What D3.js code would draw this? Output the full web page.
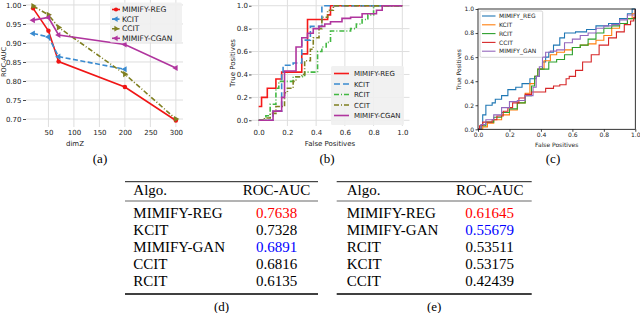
<!DOCTYPE html>
<html>
<head>
<meta charset="utf-8">
<script src="https://cdn.jsdelivr.net/npm/d3@7"></script>
<style>
body { margin: 0; background: #fff; }
svg { display: block; }
</style>
</head>
<body>
<svg id="fig" width="640" height="313"></svg>
<script>
/////////////////////////////////////////////////
// Données du panneau (a) : ROC-AUC selon dimZ //
/////////////////////////////////////////////////
const dimZReg = [20, 50, 70, 200, 300];
const aucReg = [0.991, 0.932, 0.851, 0.784, 0.696];
const dimZKcit = [20, 50, 70, 200];
const aucKcit = [0.925, 0.916, 0.864, 0.831];
const dimZCcit = [20, 50, 70, 200, 300];
const aucCcit = [0.997, 0.974, 0.941, 0.818, 0.700];
const dimZCgan = [20, 50, 70, 200, 300];
const aucCgan = [0.960, 0.967, 0.921, 0.896, 0.834];
const seriesA = ["MIMIFY-REG", "KCIT", "CCIT", "MIMIFY-CGAN"];
const ticksDimZ = [50, 100, 150, 200, 250, 300];
const ticksAuc = [0.70, 0.75, 0.80, 0.85, 0.90, 0.95, 1.00];

////////////////////////////////////////////////
// Données du panneau (b) : courbes ROC (pas) //
////////////////////////////////////////////////
const fprRegB = [0, 0.02, 0.06, 0.12, 0.16, 0.30, 0.34, 0.48, 0.50, 1.0];
const tprRegB = [0.12, 0.20, 0.28, 0.36, 0.42, 0.58, 0.88, 0.92, 1.0, 1.0];
const fprKcitB = [0, 0.10, 0.16, 0.17, 0.24, 0.30, 0.36, 0.44, 1.0];
const tprKcitB = [0, 0.08, 0.42, 0.48, 0.50, 0.70, 0.82, 1.0, 1.0];
const fprRcitB = [0, 0.05, 0.08, 0.12, 0.14, 0.24, 0.32, 0.41, 0.44, 0.47, 0.50, 0.64, 0.68, 0.72, 0.76, 0.80, 1.0];
const tprRcitB = [0, 0.04, 0.14, 0.28, 0.34, 0.38, 0.42, 0.60, 0.64, 0.68, 0.78, 0.80, 0.84, 0.88, 0.92, 1.0, 1.0];
const fprCcitB = [0, 0.04, 0.08, 0.12, 0.18, 0.20, 0.24, 0.26, 0.30, 0.32, 0.36, 0.38, 0.42, 0.44, 0.48, 0.52, 1.0];
const tprCcitB = [0, 0.02, 0.06, 0.12, 0.24, 0.28, 0.34, 0.38, 0.40, 0.52, 0.62, 0.72, 0.80, 0.90, 0.96, 1.0, 1.0];
const fprCganB = [0, 0.10, 0.16, 0.18, 0.26, 0.30, 0.34, 0.38, 0.42, 0.46, 0.50, 0.58, 0.64, 0.72, 0.82, 0.86, 1.0];
const tprCganB = [0, 0.08, 0.20, 0.43, 0.64, 0.72, 0.76, 0.80, 0.82, 0.84, 0.86, 0.89, 0.90, 0.93, 0.96, 1.0, 1.0];
const seriesB = ["MIMIFY-REG", "KCIT", "RCIT", "CCIT", "MIMIFY-CGAN"];

////////////////////////////////////////////////
// Données du panneau (c) : courbes ROC (pas) //
////////////////////////////////////////////////
const fprRegC = [0, 0.02, 0.03, 0.05, 0.09, 0.11, 0.15, 0.19, 0.24, 0.28, 0.33, 0.37, 0.39, 0.41, 0.43, 0.45, 0.48, 0.52, 0.55, 0.62, 0.69, 0.75, 0.83, 0.90, 0.95, 0.98, 1.0];
const tprRegC = [0, 0.04, 0.12, 0.20, 0.22, 0.25, 0.28, 0.33, 0.35, 0.38, 0.42, 0.44, 0.50, 0.56, 0.60, 0.64, 0.70, 0.76, 0.80, 0.81, 0.83, 0.86, 0.88, 0.92, 0.96, 1.0, 1.0];
const fprKcitC = [0, 0.03, 0.06, 0.10, 0.15, 0.20, 0.25, 0.30, 0.33, 0.36, 0.38, 0.42, 0.46, 0.50, 0.55, 0.60, 0.65, 0.70, 0.75, 0.80, 0.85, 0.90, 0.95, 0.98, 1.0];
const tprKcitC = [0, 0.02, 0.05, 0.08, 0.12, 0.16, 0.22, 0.30, 0.38, 0.44, 0.50, 0.57, 0.62, 0.64, 0.66, 0.68, 0.70, 0.71, 0.74, 0.78, 0.84, 0.88, 0.92, 0.96, 1.0];
const fprRcitC = [0, 0.02, 0.05, 0.10, 0.15, 0.20, 0.25, 0.30, 0.34, 0.36, 0.38, 0.42, 0.45, 0.50, 0.55, 0.60, 0.65, 0.70, 0.75, 0.80, 0.85, 0.90, 0.95, 1.0];
const tprRcitC = [0, 0.03, 0.06, 0.10, 0.14, 0.17, 0.22, 0.28, 0.36, 0.44, 0.50, 0.50, 0.56, 0.58, 0.62, 0.68, 0.70, 0.75, 0.80, 0.84, 0.86, 0.88, 0.92, 1.0];
const fprCcitC = [0, 0.01, 0.03, 0.09, 0.12, 0.16, 0.19, 0.22, 0.26, 0.30, 0.34, 0.43, 0.48, 0.52, 0.56, 0.58, 0.62, 0.665, 0.72, 0.77, 0.83, 0.88, 0.93, 0.97, 0.99, 1.0];
const tprCcitC = [0, 0.03, 0.06, 0.08, 0.11, 0.15, 0.18, 0.22, 0.26, 0.29, 0.31, 0.34, 0.36, 0.37, 0.42, 0.44, 0.49, 0.56, 0.62, 0.70, 0.76, 0.81, 0.87, 0.90, 0.93, 1.0];
const fprGanC = [0, 0.02, 0.05, 0.10, 0.15, 0.20, 0.25, 0.30, 0.35, 0.37, 0.39, 0.41, 0.43, 0.46, 0.50, 0.55, 0.60, 0.65, 0.70, 0.75, 0.80, 0.85, 0.90, 0.95, 1.0];
const tprGanC = [0, 0.04, 0.08, 0.12, 0.18, 0.23, 0.24, 0.28, 0.35, 0.44, 0.52, 0.60, 0.64, 0.65, 0.66, 0.72, 0.75, 0.78, 0.80, 0.84, 0.86, 0.87, 0.91, 0.95, 1.0];
const seriesC = ["MIMIFY_REG", "KCIT", "RCIT", "CCIT", "MIMIFY_GAN"];
const ticksRoc = [0, 0.2, 0.4, 0.6, 0.8, 1.0];

//////////////////////////////////////
// Données des tableaux (d) et (e) //
//////////////////////////////////////
const algosD = ["MIMIFY-REG", "KCIT", "MIMIFY-GAN", "CCIT", "RCIT"];
const aucD = ["0.7638", "0.7328", "0.6891", "0.6816", "0.6135"];
const algosE = ["MIMIFY-REG", "MIMIFY-GAN", "RCIT", "KCIT", "CCIT"];
const aucE = ["0.61645", "0.55679", "0.53511", "0.53175", "0.42439"];


const svg = d3.select("#fig");
const SANS = "DejaVu Sans";
const SERIF = "Liberation Serif";
const TEXTE = "#1a1a1a";

// assemble deux listes en points {x, y}
function points(xs, ys) {
    return xs.map((x, i) => ({x: x, y: ys[i]}));
}

// lignes de grille grises (style seaborn)
function grille(g, xs, ys, xTicks, yTicks, box) {
    g.selectAll(null).data(xTicks).join("line")
        .attr("x1", d => xs(d)).attr("x2", d => xs(d))
        .attr("y1", box.top).attr("y2", box.bottom)
        .attr("stroke", "#dedede").attr("stroke-width", 1);
    g.selectAll(null).data(yTicks).join("line")
        .attr("x1", box.left).attr("x2", box.right)
        .attr("y1", d => ys(d)).attr("y2", d => ys(d))
        .attr("stroke", "#dedede").attr("stroke-width", 1);
}

// met en forme un axe d3 (police, couleur)
function styleAxe(sel, taille) {
    sel.selectAll("text").attr("font-family", SANS).attr("font-size", taille).attr("fill", TEXTE);
    sel.selectAll("line").attr("stroke", TEXTE).attr("stroke-width", 0.8);
    sel.select(".domain").remove();
}

function texte(g, x, y, t, taille, opts) {
    opts = opts || {};
    const el = g.append("text").attr("x", x).attr("y", y).text(t)
        .attr("font-family", opts.font || SANS).attr("font-size", taille)
        .attr("fill", opts.fill || TEXTE)
        .attr("text-anchor", opts.anchor || "start");
    if (opts.rotate) el.attr("transform", "rotate(-90," + x + "," + y + ")");
    return el;
}


////////////////////////////////////////////
// PANNEAU (a) : ROC-AUC en fonction dimZ //
////////////////////////////////////////////
(function panneauA() {
    const box = {left: 26, right: 183, top: 0, bottom: 127};
    const x = d3.scaleLinear().domain([6, 314]).range([box.left, box.right]);
    const y = d3.scaleLinear().domain([0.679, 1.013]).range([box.bottom, box.top]);
    const g = svg.append("g");

    grille(g, x, y, ticksDimZ, ticksAuc, box);

    const ay = g.append("g").attr("transform", "translate(" + box.left + ",0)")
        .call(d3.axisLeft(y).tickValues(ticksAuc).tickFormat(d3.format(".2f")).tickSize(3).tickPadding(1.5));
    styleAxe(ay, 7);
    const ax = g.append("g").attr("transform", "translate(0," + box.bottom + ")")
        .call(d3.axisBottom(x).tickValues(ticksDimZ).tickSize(0).tickPadding(3));
    styleAxe(ax, 7);

    texte(g, 75, 145.5, "dimZ", 7, {anchor: "middle"});
    texte(g, 6.2, 62, "ROC-AUC", 6.5, {anchor: "middle", rotate: true});   // collé au bord gauche

    const series = [
        {nom: seriesA[0], pts: points(dimZReg, aucReg), col: "#f01515", dash: null, sym: d3.symbolCircle, rot: 0},
        {nom: seriesA[1], pts: points(dimZKcit, aucKcit), col: "#3a8bd0", dash: "5,2.5", sym: d3.symbolTriangle, rot: -90},
        {nom: seriesA[2], pts: points(dimZCcit, aucCcit), col: "#7f7f20", dash: "5,2,1,2", sym: d3.symbolTriangle, rot: 90},
        {nom: seriesA[3], pts: points(dimZCgan, aucCgan), col: "#b0359e", dash: null, sym: d3.symbolTriangle, rot: -90}
    ];
    const ligne = d3.line().x(d => x(d.x)).y(d => y(d.y));

    series.forEach(s => {
        g.append("path").attr("d", ligne(s.pts)).attr("fill", "none")
            .attr("stroke", s.col).attr("stroke-width", 1.6)
            .attr("stroke-dasharray", s.dash);
        g.selectAll(null).data(s.pts).join("path")
            .attr("d", d3.symbol().type(s.sym).size(16))
            .attr("transform", d => "translate(" + x(d.x) + "," + y(d.y) + ") rotate(" + s.rot + ")")
            .attr("fill", s.col);
    });

    // légende
    const lg = g.append("g");
    lg.append("rect").attr("x", 110).attr("y", 2.5).attr("width", 72).attr("height", 40)
        .attr("rx", 1.5).attr("fill", "#efefef").attr("fill-opacity", 0.9);
    series.forEach((s, i) => {
        const yy = 9.5 + i * 9.6;
        lg.append("line").attr("x1", 112).attr("x2", 120).attr("y1", yy).attr("y2", yy)
            .attr("stroke", s.col).attr("stroke-width", 1.6).attr("stroke-dasharray", s.dash ? "3,1.5" : null);
        lg.append("path").attr("d", d3.symbol().type(s.sym).size(14)())
            .attr("transform", "translate(116," + yy + ") rotate(" + s.rot + ")").attr("fill", s.col);
        texte(lg, 122, yy + 2.7, s.nom, 7.6);
    });

    texte(g, 100, 163, "(a)", 13, {font: SERIF, anchor: "middle", fill: "#000"});
})();


///////////////////////////////////////////
// PANNEAU (b) : courbes ROC (seaborn)   //
///////////////////////////////////////////
(function panneauB() {
    const box = {left: 251.5, right: 409.5, top: 0, bottom: 126};
    const x = d3.scaleLinear().domain([-0.05, 1.05]).range([box.left, box.right]);
    const y = d3.scaleLinear().domain([-0.05, 1.05]).range([box.bottom, box.top]);
    const g = svg.append("g");

    grille(g, x, y, ticksRoc, ticksRoc, box);

    const ay = g.append("g").attr("transform", "translate(" + box.left + ",0)")
        .call(d3.axisLeft(y).tickValues(ticksRoc).tickFormat(d3.format(".1f")).tickSize(2.5).tickPadding(1));
    styleAxe(ay, 7);
    const ax = g.append("g").attr("transform", "translate(0," + box.bottom + ")")
        .call(d3.axisBottom(x).tickValues(ticksRoc).tickFormat(d3.format(".1f")).tickSize(0).tickPadding(4.5));
    styleAxe(ax, 7);

    texte(g, 330, 145.5, "False Positives", 7, {anchor: "middle"});
    texte(g, 235, 63, "True Positives", 7, {anchor: "middle", rotate: true});

    const series = [
        {nom: seriesB[0], pts: points(fprRegB, tprRegB), col: "#f51a1a", dash: null},
        {nom: seriesB[1], pts: points(fprKcitB, tprKcitB), col: "#3a8bd0", dash: "6,3"},
        {nom: seriesB[2], pts: points(fprRcitB, tprRcitB), col: "#42b842", dash: "5,2,1,2"},
        {nom: seriesB[3], pts: points(fprCcitB, tprCcitB), col: "#7f7f20", dash: "5,2,1,2"},
        {nom: seriesB[4], pts: points(fprCganB, tprCganB), col: "#b0359e", dash: null}
    ];
    const ligne = d3.line().curve(d3.curveStepAfter).x(d => x(d.x)).y(d => y(d.y));

    series.forEach(s => {
        g.append("path").attr("d", ligne(s.pts)).attr("fill", "none")
            .attr("stroke", s.col).attr("stroke-width", 1.6)
            .attr("stroke-dasharray", s.dash);
    });

    // légende
    const lg = g.append("g");
    lg.append("rect").attr("x", 331).attr("y", 66).attr("width", 73).attr("height", 59)
        .attr("rx", 1.5).attr("fill", "#efefef").attr("fill-opacity", 0.9);
    series.forEach((s, i) => {
        const yy = 73.5 + i * 10.5;
        lg.append("line").attr("x1", 334).attr("x2", 349).attr("y1", yy).attr("y2", yy)
            .attr("stroke", s.col).attr("stroke-width", 1.6).attr("stroke-dasharray", s.dash);
        texte(lg, 354, yy + 2.5, s.nom, 7);
    });

    texte(g, 327, 163, "(b)", 13, {font: SERIF, anchor: "middle", fill: "#000"});
})();


/////////////////////////////////////////////
// PANNEAU (c) : courbes ROC (matplotlib)  //
/////////////////////////////////////////////
(function panneauC() {
    const box = {left: 478, right: 635.3, top: 9, bottom: 129.3};
    const x = d3.scaleLinear().domain([0, 1]).range([box.left, box.right]);
    const y = d3.scaleLinear().domain([0, 1]).range([box.bottom, box.top]);
    const g = svg.append("g");

    const series = [
        {nom: seriesC[0], pts: points(fprRegC, tprRegC), col: "#1f77b4"},
        {nom: seriesC[1], pts: points(fprKcitC, tprKcitC), col: "#ff7f0e"},
        {nom: seriesC[2], pts: points(fprRcitC, tprRcitC), col: "#2ca02c"},
        {nom: seriesC[3], pts: points(fprCcitC, tprCcitC), col: "#d62728"},
        {nom: seriesC[4], pts: points(fprGanC, tprGanC), col: "#9467bd"}
    ];
    const ligne = d3.line().curve(d3.curveStepAfter).x(d => x(d.x)).y(d => y(d.y));

    series.forEach(s => {
        g.append("path").attr("d", ligne(s.pts)).attr("fill", "none")
            .attr("stroke", s.col).attr("stroke-width", 1.1);
    });

    // cadre noir
    g.append("rect").attr("x", box.left).attr("y", box.top)
        .attr("width", box.right - box.left).attr("height", box.bottom - box.top)
        .attr("fill", "none").attr("stroke", "#000").attr("stroke-width", 0.8);

    const ay = g.append("g").attr("transform", "translate(" + box.left + ",0)")
        .call(d3.axisLeft(y).tickValues(ticksRoc).tickFormat(d3.format(".1f")).tickSize(2.5).tickPadding(1.5));
    styleAxe(ay, 6);
    const ax = g.append("g").attr("transform", "translate(0," + box.bottom + ")")
        .call(d3.axisBottom(x).tickValues(ticksRoc).tickFormat(d3.format(".1f")).tickSize(2.5).tickPadding(1));
    styleAxe(ax, 6);

    texte(g, 556.7, 146.5, "False Positives", 6, {anchor: "middle"});
    texte(g, 461, 69.5, "True Positives", 6, {anchor: "middle", rotate: true});

    // légende
    const lg = g.append("g");
    lg.append("rect").attr("x", 480).attr("y", 11).attr("width", 62.7).attr("height", 46.3)
        .attr("rx", 1.5).attr("fill", "#fff").attr("fill-opacity", 0.8)
        .attr("stroke", "#cccccc").attr("stroke-width", 0.8);
    series.forEach((s, i) => {
        const yy = 16 + i * 8.8;
        lg.append("line").attr("x1", 482).attr("x2", 495.5).attr("y1", yy).attr("y2", yy)
            .attr("stroke", s.col).attr("stroke-width", 1.1);
        texte(lg, 499, yy + 2.2, s.nom, 6);
    });

    texte(g, 553, 163, "(c)", 13, {font: SERIF, anchor: "middle", fill: "#000"});
})();


//////////////////////////////////////
// TABLEAUX (d) et (e) : ROC-AUC    //
//////////////////////////////////////
function couleurAlgo(nom) {
    if (nom === "MIMIFY-REG") return "#ff0000";     // meilleur résultat en rouge
    if (nom === "MIMIFY-GAN") return "#0000ff";     // variante GAN en bleu
    return "#000";
}

function tableau(x0, x1, xTexte, xValeur, algos, valeurs, legende) {
    const g = svg.append("g");
    const ligneH = (yy, ep) => g.append("line").attr("x1", x0).attr("x2", x1)
        .attr("y1", yy).attr("y2", yy).attr("stroke", "#000").attr("stroke-width", ep);

    ligneH(181.7, 0.9);
    ligneH(201, 0.6);
    ligneH(294, 1.4);

    texte(g, xTexte, 195, "Algo.", 15, {font: SERIF, fill: "#000"});
    texte(g, xValeur, 195, "ROC-AUC", 15, {font: SERIF, fill: "#000", anchor: "middle"});

    algos.forEach((a, i) => {
        const yy = 218.4 + i * 16.85;
        texte(g, xTexte, yy, a, 15, {font: SERIF, fill: "#000"});
        texte(g, xValeur, yy, valeurs[i], 15, {font: SERIF, fill: couleurAlgo(a), anchor: "middle"});
    });

    texte(g, (x0 + x1) / 2, 310.7, legende, 13, {font: SERIF, fill: "#000", anchor: "middle"});
}

tableau(125, 318, 133.3, 276.5, algosD, aucD, "(d)");
tableau(336.7, 531.7, 346.7, 489.7, algosE, aucE, "(e)");
</script>
</body>
</html>
